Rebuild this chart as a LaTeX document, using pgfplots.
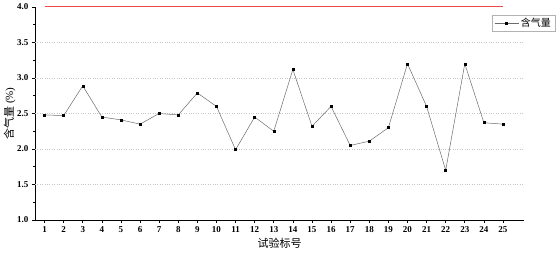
\documentclass[border=0pt]{standalone}
\usepackage{pgfplots}
\pgfplotsset{compat=1.18}
\usepackage{fontspec}
\setmainfont{Liberation Serif}
\newfontfamily\cjk{Noto Sans CJK SC}
\definecolor{refline}{RGB}{240,70,70}
\begin{document}
\begin{tikzpicture}[x=1pt,y=1pt]
\useasboundingbox (-35,-36) rectangle (524,220);
\begin{axis}[
  at={(0,0)}, anchor=south west,
  scale only axis, width=489pt, height=213pt,
  xmin=0.5, xmax=26.1, ymin=1, ymax=4,
  axis x line*=bottom, axis y line*=left,
  axis line style={line width=0.8pt, -},
  tick align=outside,
  xtick={1,...,25},
  ytick={1,1.5,...,4},
  minor y tick num=1,
  major tick length=3pt, minor tick length=1.8pt,
  every tick/.style={black, line width=0.6pt},
  yticklabel style={/pgf/number format/.cd, fixed, fixed zerofill, precision=1},
  /pgf/number format/assume math mode=true,
  tick label style={font=\fontsize{9}{10}\selectfont\bfseries},
  grid=none,
  extra y ticks={1.5,2,2.5,3,3.5},
  extra y tick labels={},
  extra y tick style={ymajorgrids, major tick length=0pt, grid style={gray!45, dotted, line width=0.5pt}},
  xlabel={\cjk 试验标号}, ylabel={{\cjk 含气量} (\%)},
  label style={font=\fontsize{11}{12}\selectfont},
  xlabel style={yshift=1pt},
  ylabel style={at={(axis description cs:-0.052,0.5)}, anchor=center},
  legend style={at={(0.935,0.962)}, anchor=north west, draw=gray!60, line width=0.5pt,
    font=\fontsize{10}{11}\selectfont\cjk, inner xsep=2pt, inner ysep=1pt},
  legend image code/.code={\draw[#1] (0pt,0pt) -- (24pt,0pt); \draw[#1, only marks] plot coordinates {(12pt,0pt)};},
  legend cell align=left,
  clip=false,
]
\addplot[draw=refline, line width=1pt, forget plot, no markers] coordinates {(1,4) (25,4)};
\addplot[gray!85!black, line width=0.5pt, mark=square*, mark size=1pt, mark options={black, solid}] coordinates {
(1,2.48) (2,2.47) (3,2.89) (4,2.45) (5,2.41) (6,2.35) (7,2.50) (8,2.48) (9,2.79) (10,2.60)
(11,1.99) (12,2.45) (13,2.25) (14,3.12) (15,2.32) (16,2.60) (17,2.05) (18,2.11) (19,2.30) (20,3.20)
(21,2.60) (22,1.70) (23,3.20) (24,2.37) (25,2.35)};
\addlegendentry{含气量}
\end{axis}
\end{tikzpicture}
\end{document}
